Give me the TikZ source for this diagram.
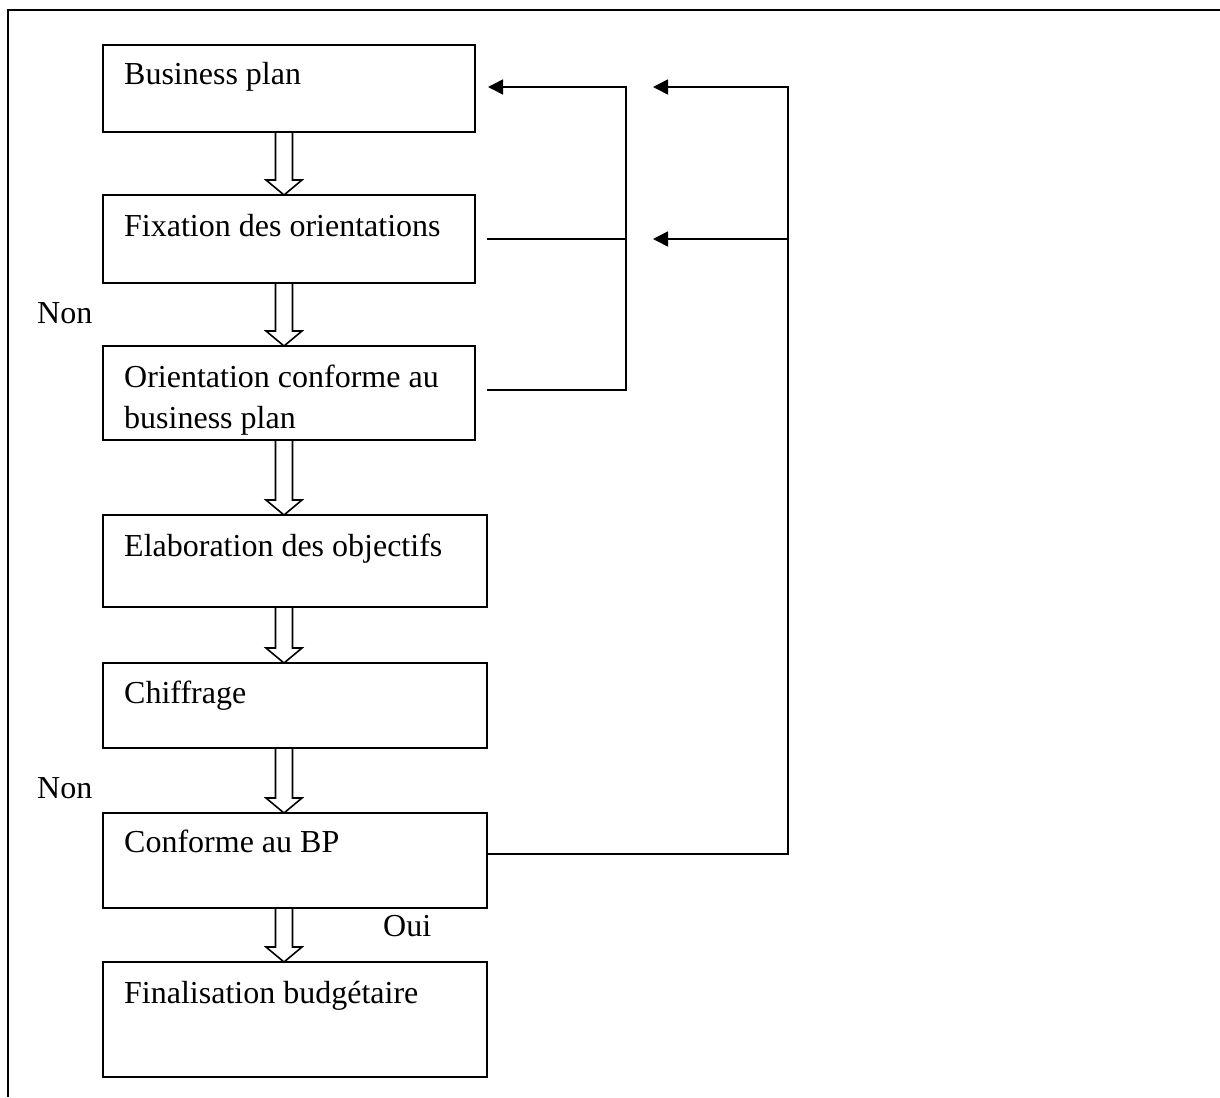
\documentclass[tikz,border=0pt]{standalone}
\usepackage{fontspec}
\setmainfont{Liberation Serif}
\usetikzlibrary{arrows.meta,calc}
\begin{document}
\begin{tikzpicture}[x=1pt,y=-1pt,
  stepbox/.style={draw, line width=1.6pt, anchor=north west, inner sep=0pt, outer sep=0pt},
  lbl/.style={anchor=base west, inner sep=0pt, font=\fontsize{32}{38}\selectfont},
  link/.style={line width=1.6pt},
  tip/.style={-{Triangle[length=15pt,width=15pt]}},
  hollow/.style={line width=1.6pt, line join=miter}
]
\useasboundingbox (0,0) rectangle (1220,1097);

% open frame: left and top edges only
\draw[line width=1.6pt] (8,1097) -- (8,10) -- (1220,10);

% process boxes
\node[stepbox, minimum width=372pt, minimum height=87pt] (b1) at (103,45) {};
\node[stepbox, minimum width=372pt, minimum height=88pt] (b2) at (103,195) {};
\node[stepbox, minimum width=372pt, minimum height=94pt] (b3) at (103,346) {};
\node[stepbox, minimum width=384pt, minimum height=92pt] (b4) at (103,515) {};
\node[stepbox, minimum width=384pt, minimum height=85pt] (b5) at (103,663) {};
\node[stepbox, minimum width=384pt, minimum height=95pt] (b6) at (103,813) {};
\node[stepbox, minimum width=384pt, minimum height=115pt] (b7) at (103,962) {};

% box texts
\node[lbl] (b1t) at (124,85) {Business plan};
\node[lbl] (b2t) at (124,236) {Fixation des orientations};
\node[lbl] (b3t) at (124,387) {Orientation conforme au};
\node[lbl] (b3u) at (124,428) {business plan};
\node[lbl] (b4t) at (124,556) {Elaboration des objectifs};
\node[lbl] (b5t) at (124,703) {Chiffrage};
\node[lbl] (b6t) at (124,852) {Conforme au BP};
\node[lbl] (b7t) at (124,1003) {Finalisation budgétaire};

% side labels
\node[lbl] (non1) at (37,323) {Non};
\node[lbl] (non2) at (37,798) {Non};
\node[lbl] (oui) at (383,936) {Oui};

% hollow block arrows between consecutive boxes
\coordinate (ax) at (284,0);
\newcommand{\blockarrow}[2]{%
  \path (#1.south -| ax) coordinate (s) (#2.north -| ax) coordinate (e);
  \draw[hollow] ($(s)+(-8.5,0)$) -- ($(e)+(-8.5,-15)$) -- ($(e)+(-18,-15)$)
    -- (e) -- ($(e)+(18,-15)$) -- ($(e)+(8.5,-15)$) -- ($(s)+(8.5,0)$);}
\blockarrow{b1}{b2}
\blockarrow{b2}{b3}
\blockarrow{b3}{b4}
\blockarrow{b4}{b5}
\blockarrow{b5}{b6}
\blockarrow{b6}{b7}

% feedback loops
\coordinate (s2) at (487,239);
\coordinate (s3) at (487,390);
\coordinate (p1) at (626,87);
\coordinate (p2) at (626,390);
\coordinate (j2) at (626,239);
\coordinate (a1) at (488,87);
\coordinate (q1) at (788,87);
\coordinate (q2) at (788,854);
\coordinate (q3) at (788,239);
\coordinate (a2) at (653,87);
\coordinate (a3) at (653,239);

\draw[link,tip] (s3) -- (p2) -- (p1) -- (a1);
\draw[link] (s2) -- (j2);
\draw[link,tip] (b6.east |- q2) -- (q2) -- (q1) -- (a2);
\draw[link,tip] (q3) -- (a3);
\end{tikzpicture}
\end{document}
